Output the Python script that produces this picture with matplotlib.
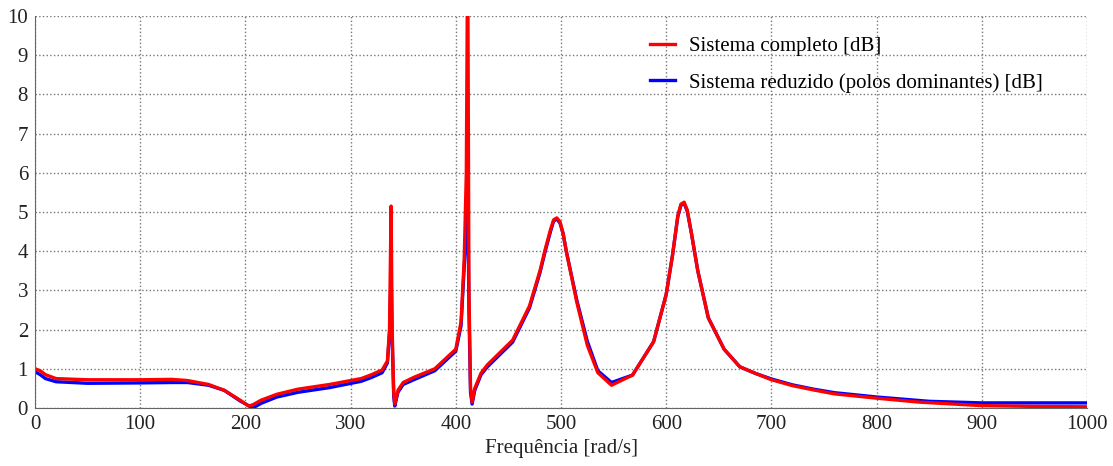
import numpy as np
import matplotlib.pyplot as plt

plt.rcParams['font.family'] = ['Liberation Serif', 'DejaVu Serif']

# frequency points [rad/s]
freq_full = [0, 5, 10, 20, 50, 100, 130, 145, 165, 180, 195, 203, 207, 215, 230, 250,
             280, 310, 320, 330, 335, 337, 338.5, 339.5, 341, 342, 345, 350, 360, 380,
             400, 405, 408, 410, 411.3, 412.5, 414, 415.5, 418, 424, 430, 454, 470, 480,
             485, 490, 493, 496, 499, 502, 505, 515, 525, 535, 548, 568, 588, 600, 606,
             611, 614, 617, 620, 624, 630, 640, 655, 670, 685, 700, 720, 740, 760, 800,
             840, 900, 950, 1000]
mag_full = [1.0, 0.95, 0.85, 0.75, 0.72, 0.72, 0.73, 0.70, 0.60, 0.45, 0.20, 0.05, 0.08,
            0.20, 0.35, 0.48, 0.60, 0.75, 0.85, 0.97, 1.2, 2.0, 5.15, 2.0, 0.4, 0.1, 0.45,
            0.65, 0.78, 1.0, 1.5, 2.2, 3.8, 6.0, 12.0, 3.0, 0.5, 0.15, 0.5, 0.89, 1.1,
            1.73, 2.6, 3.5, 4.05, 4.55, 4.8, 4.85, 4.75, 4.45, 4.0, 2.7, 1.6, 0.9, 0.58,
            0.84, 1.69, 2.9, 3.9, 4.9, 5.2, 5.25, 5.05, 4.45, 3.5, 2.3, 1.5, 1.05, 0.88,
            0.72, 0.57, 0.46, 0.36, 0.25, 0.15, 0.06, 0.04, 0.03]

freq_red = [0, 5, 10, 20, 50, 100, 130, 145, 165, 180, 195, 207, 215, 230, 250,
            280, 310, 320, 330, 335, 337, 338.5, 339.5, 341, 342, 345, 350, 360, 380,
            400, 405, 408, 410, 411.3, 412.5, 414, 415.5, 418, 424, 430, 454, 470, 480,
            485, 490, 493, 496, 499, 502, 505, 515, 525, 535, 548, 568, 588, 600, 606,
            611, 614, 617, 620, 624, 630, 640, 655, 670, 685, 700, 720, 740, 760, 800,
            850, 900, 950, 1000]
mag_red = [0.93, 0.85, 0.75, 0.67, 0.63, 0.64, 0.65, 0.65, 0.58, 0.45, 0.18, 0.0,
           0.12, 0.28, 0.40, 0.52, 0.68, 0.78, 0.90, 1.15, 1.9, 3.5, 1.8, 0.3, 0.05,
           0.4, 0.6, 0.72, 0.95, 1.45, 2.1, 3.6, 4.5, 5.8, 2.5, 0.4, 0.1, 0.45, 0.85,
           1.05, 1.68, 2.55, 3.45, 4.0, 4.5, 4.77, 4.82, 4.72, 4.45, 4.0, 2.75, 1.7,
           0.95, 0.65, 0.84, 1.69, 2.9, 3.9, 4.88, 5.17, 5.22, 5.02, 4.45, 3.5, 2.3,
           1.5, 1.05, 0.88, 0.74, 0.59, 0.48, 0.39, 0.28, 0.17, 0.13, 0.13, 0.13]

fig = plt.figure(figsize=(11.13, 4.66), dpi=100)
ax = fig.add_axes([0.0314, 0.1245, 0.9453, 0.8412])

ax.plot(freq_red, mag_red, color='#0000ff', lw=2.4, label='Sistema reduzido (polos dominantes) [dB]')
ax.plot(freq_full, mag_full, color='#ff0000', lw=2.4, label='Sistema completo [dB]')

ax.set_xlim(0, 1000)
ax.set_ylim(0, 10)
ax.set_xticks(np.arange(0, 1001, 100))
ax.set_yticks(np.arange(0, 11, 1))
ax.grid(True, ls=':', color='#777777', lw=1)
for s in ['top', 'right']:
    ax.spines[s].set_visible(False)
for s in ['left', 'bottom']:
    ax.spines[s].set_color('#666666')
ax.tick_params(length=0, labelsize=15, pad=5, colors='#222222')
ax.set_xlabel('Frequência [rad/s]', fontsize=15, color='#222222', labelpad=4)

h, l = ax.get_legend_handles_labels()
ax.legend(h[::-1], l[::-1], loc='upper right', bbox_to_anchor=(0.976, 0.995), frameon=False,
          fontsize=15, handlelength=1.2, handletextpad=0.7, labelspacing=0.8)

fig.savefig('out.png', dpi=100)
